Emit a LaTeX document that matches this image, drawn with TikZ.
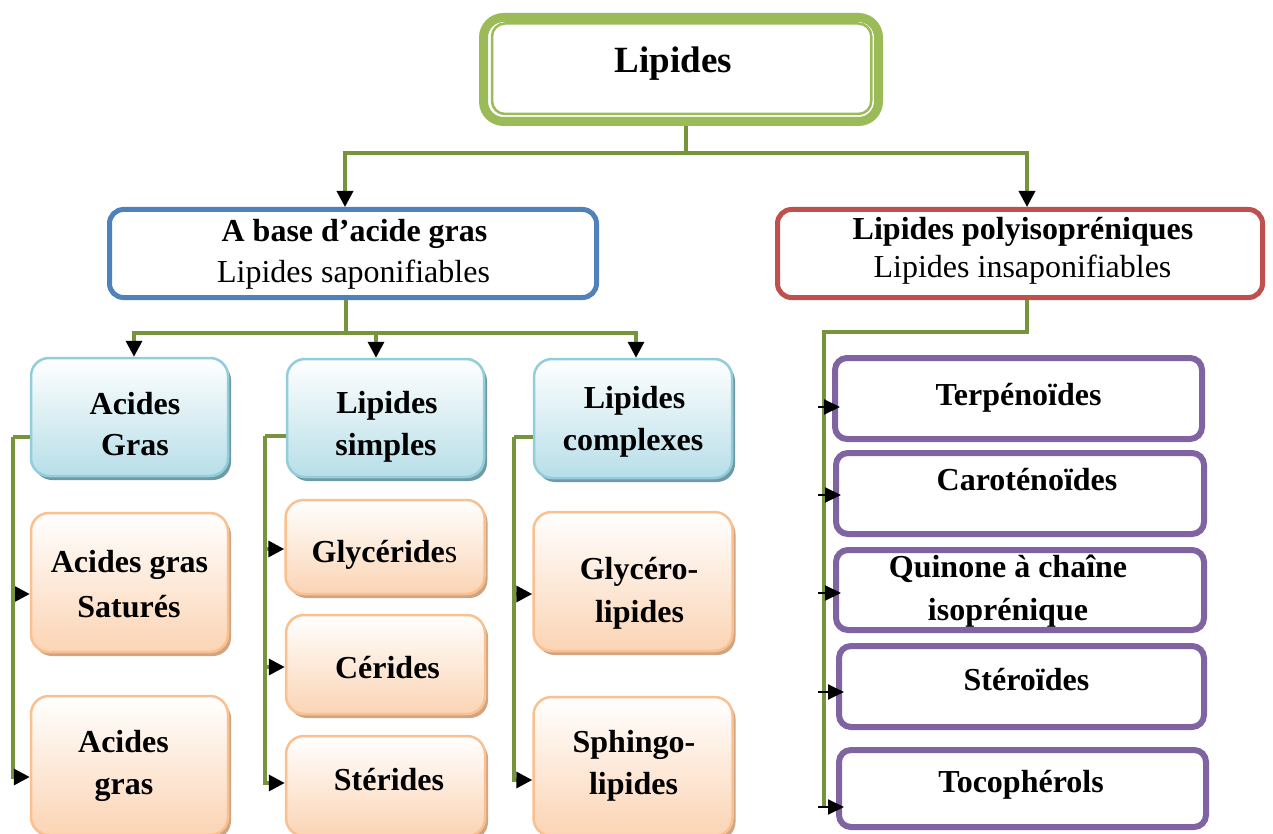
\documentclass[tikz,border=0pt]{standalone}
\usepackage{fontspec}
\setmainfont{Liberation Serif}
\usetikzlibrary{arrows.meta,shadows,calc}
\definecolor{lgreen}{HTML}{77933C}
\definecolor{topgreen}{HTML}{9BBB59}
\definecolor{bblue}{HTML}{4F81BD}
\definecolor{rred}{HTML}{C0504D}
\definecolor{purp}{HTML}{8064A2}
\definecolor{tealB}{HTML}{92CDDC}
\definecolor{tealF}{HTML}{B7DEE8}
\definecolor{tealS}{HTML}{6E9AA5}
\definecolor{orB}{HTML}{FAC090}
\definecolor{orF}{HTML}{FBD4B4}
\definecolor{orS}{HTML}{CFA584}
\begin{document}
\begin{tikzpicture}[x=1pt,y=-1pt,
  conn/.style={draw=lgreen, line width=3.5pt},
  arr/.style={conn, -{Triangle[length=16pt,width=16pt,color=black]}},
  rarr/.style={draw=black, line width=2pt, -{Triangle[length=16pt,width=15pt,color=black]}},
  topbox/.style={draw=topgreen, line width=9pt, rounded corners=20pt, fill=white, inner sep=0pt},
  mainbox/.style={line width=5pt, rounded corners=14pt, fill=white, inner sep=0pt},
  tealbox/.style={draw=tealB, line width=2.5pt, rounded corners=18pt, top color=white, bottom color=tealF,
    general shadow={fill=tealS, shadow xshift=3pt, shadow yshift=-4pt}, inner sep=0pt},
  orbox/.style={draw=orB, line width=2.5pt, rounded corners=18pt, top color=white, bottom color=orF,
    general shadow={fill=orS, shadow xshift=3pt, shadow yshift=-4pt}, inner sep=0pt},
  purbox/.style={draw=purp, line width=6pt, rounded corners=12pt, fill=white, inner sep=0pt},
  bt/.style={font=\bfseries\fontsize{32}{38}\selectfont, anchor=base, inner sep=0pt},
  rt/.style={font=\fontsize{32}{38}\selectfont, anchor=base, inner sep=0pt}
]
\clip (0,0) rectangle (1273,834);
\fill[white] (0,0) rectangle (1273,834);

% --- boxes ---
\node[topbox, minimum width=395pt, minimum height=104pt] (top) at (681,69.5) {};
\draw[topgreen, line width=2.5pt, rounded corners=13pt] ($(top.north west)+(13,10.5)$) rectangle ($(top.south east)+(-11.7,-12)$);

\node[mainbox, draw=bblue, minimum width=487pt, minimum height=88pt] (blue) at (353,253.5) {};
\node[mainbox, draw=rred, minimum width=485pt, minimum height=88pt] (red) at (1020,253.5) {};

\node[tealbox, minimum width=197pt, minimum height=118pt] (ag) at (129.5,417) {};
\node[tealbox, minimum width=197pt, minimum height=118pt] (ls) at (385.5,418) {};
\node[tealbox, minimum width=198pt, minimum height=119pt] (lc) at (633,418.5) {};

\node[orbox, minimum width=197pt, minimum height=139pt] (ags) at (129.5,582.5) {};
\node[orbox, minimum width=197pt, minimum height=139pt] (agb) at (129.5,765.5) {};
\node[orbox, minimum width=199pt, minimum height=94pt] (gly) at (385,547) {};
\node[orbox, minimum width=199pt, minimum height=99pt] (cer) at (385.5,664.5) {};
\node[orbox, minimum width=199pt, minimum height=100pt] (ste) at (385.5,786) {};
\node[orbox, minimum width=199pt, minimum height=139pt] (glo) at (633,581.5) {};
\node[orbox, minimum width=199pt, minimum height=139pt] (sph) at (633,766.5) {};

\node[purbox, minimum width=367pt, minimum height=81pt] (terp) at (1018.5,398.5) {};
\node[purbox, minimum width=368pt, minimum height=81pt] (caro) at (1020,493.5) {};
\node[purbox, minimum width=368pt, minimum height=80pt] (quin) at (1020,590) {};
\node[purbox, minimum width=365pt, minimum height=81pt] (ster) at (1021.5,686.5) {};
\node[purbox, minimum width=367pt, minimum height=77pt] (toco) at (1022.5,788.5) {};

% --- texts ---
\node[bt, font=\bfseries\fontsize{37}{44}\selectfont] (tLip) at (673.5,73) {Lipides};
\node[bt] (tB1) at (354.5,242) {A base d’acide gras};
\node[rt] (tB2) at (353.5,282) {Lipides saponifiables};
\node[bt] (tR1) at (1023,240) {Lipides polyisopréniques};
\node[rt] (tR2) at (1022.5,277) {Lipides insaponifiables};

\node[bt] (tAG1) at (135,414) {Acides};
\node[bt] (tAG2) at (135,455) {Gras};
\node[bt] (tLS1) at (387,413) {Lipides};
\node[bt] (tLS2) at (386,455) {simples};
\node[bt] (tLC1) at (634.5,408) {Lipides};
\node[bt] (tLC2) at (633,450) {complexes};

\node[bt] (tS1) at (129.5,572) {Acides gras};
\node[bt] (tS2) at (129,617) {Saturés};
\node[bt] (tG1) at (123.5,752) {Acides};
\node[bt] (tG2) at (124,794) {gras};
\node[bt] (tGly) at (384.5,562) {Glycéride\textmd{s}};
\node[bt] (tCer) at (387.5,678) {Cérides};
\node[bt] (tSte) at (389,790) {Stérides};
\node[bt] (tGl1) at (639,579) {Glycéro-};
\node[bt] (tGl2) at (639.5,622) {lipides};
\node[bt] (tSp1) at (634,752) {Sphingo-};
\node[bt] (tSp2) at (633.5,794) {lipides};

\node[bt] (tTerp) at (1018.5,405) {Terpénoïdes};
\node[bt] (tCaro) at (1027,490) {Caroténoïdes};
\node[bt] (tQ1) at (1008,577) {Quinone à chaîne};
\node[bt] (tQ2) at (1008,620) {isoprénique};
\node[bt] (tSter) at (1026.5,690) {Stéroïdes};
\node[bt] (tToco) at (1021,792) {Tocophérols};

% --- connectors ---
\coordinate (j1) at (686,153);
\draw[conn] (top.south -| j1) -- (j1);
\draw[arr] (j1) -| ($(blue.north)+(-8,0)$);
\draw[arr] (j1) -| ($(red.north)+(7,0)$);

\coordinate (j2) at (346,333);
\draw[conn] (blue.south -| j2) -- (j2);
\draw[arr] (j2) -| ($(ag.north)+(4.5,0)$);
\draw[arr] (j2) -| ($(ls.north)+(-9.5,0)$);
\draw[arr] (j2) -| ($(lc.north)+(3,0)$);

\coordinate (b1) at (13,437);
\draw[conn] ($(ag.west)+(0,20)$) -- (b1);
\draw[arr] (b1) |- ($(ags.west)+(0,11.5)$);
\draw[arr] (b1) |- ($(agb.west)+(0,11.5)$);

\coordinate (b2) at (265,436);
\draw[conn] ($(ls.west)+(0,18)$) -- (b2);
\draw[arr] (b2) |- ($(gly.west)+(0,2)$);
\draw[arr] (b2) |- ($(cer.west)+(0,2.5)$);
\draw[arr] (b2) |- ($(ste.west)+(0,-3)$);

\coordinate (b3) at (514,437);
\draw[conn] ($(lc.west)+(0,18.5)$) -- (b3);
\draw[arr] (b3) |- ($(glo.west)+(0,12.5)$);
\draw[arr] (b3) |- ($(sph.west)+(0,13.5)$);

\coordinate (b4) at (824,332);
\coordinate (p1) at ($(terp.west)+(8,8.5)$);
\coordinate (p2) at ($(caro.west)+(8,1.5)$);
\coordinate (p3) at ($(quin.west)+(8,3)$);
\coordinate (p4) at ($(ster.west)+(8,5.5)$);
\coordinate (p5) at ($(toco.west)+(8,18.5)$);
\draw[conn] ($(red.south)+(7,0)$) |- (b4) -- (b4 |- p5);
\foreach \p in {p1,p2,p3,p4,p5}{
  \draw[rarr] ($(b4 |- \p)+(-6,0)$) -- (\p);
}
\end{tikzpicture}
\end{document}
